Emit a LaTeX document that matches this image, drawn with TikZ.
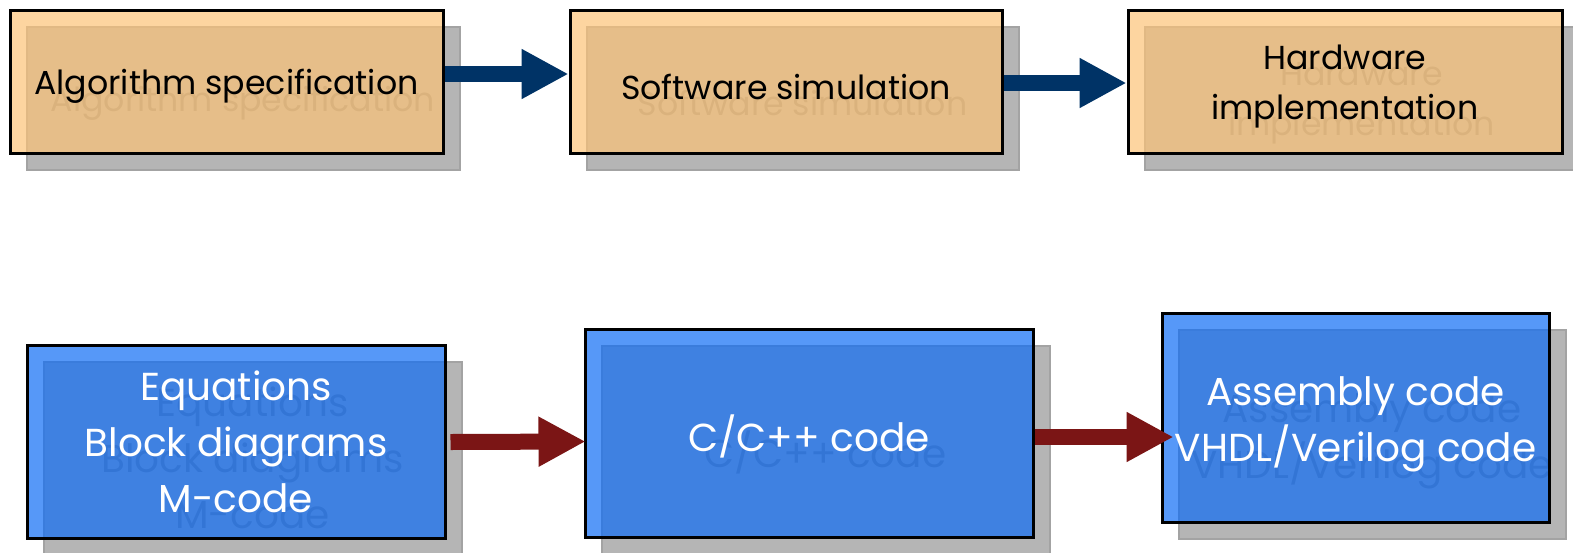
\documentclass[tikz,border=0pt]{standalone}
\usepackage{fontspec}
\setmainfont{Poppins}
\usetikzlibrary{arrows.meta,positioning}

\definecolor{boxorange}{RGB}{252,195,119}
\definecolor{boxblue}{RGB}{14,108,245}
\definecolor{arrowblue}{RGB}{0,51,102}
\definecolor{arrowred}{RGB}{123,21,21}

\begin{document}
\begin{tikzpicture}[x=0.5pt,y=-0.5pt,
    blk/.style={draw=black,line width=1.5pt,fill opacity=0.7,inner sep=0pt},
    blkshadow/.style={draw=black!36,line width=1pt,fill=black!29,inner sep=0pt,xshift=8.25pt,yshift=-8.25pt},
    toptext/.style={font=\fontsize{16.6}{25}\selectfont,align=center,inner sep=0pt},
    bottext/.style={font=\fontsize{19.5}{28}\selectfont,align=center,inner sep=0pt},
    flow/.style={line width=8pt,-{Triangle[length=23.5pt,width=23.5pt]}}]
\useasboundingbox (0,0) rectangle (1573,552);

% top row
\foreach \n/\x/\y/\w/\dy/\txt in
    {1/226.5/81.5/216.5/2.5/{Algorithm specification},
     2/786/81.5/216/2.5/{Software simulation},
     3/1345/81.5/217/2.5/{Hardware\\implementation}}
  {
    \node[blkshadow,minimum width=\w pt,minimum height=71.5pt,
          label={[toptext,text=black!45,yshift=-\dy pt]center:\txt}] at (\x,\y) {};
    \node[blk,fill=boxorange,minimum width=\w pt,minimum height=71.5pt,
          label={[toptext,yshift=-\dy pt]center:\txt}](N\n) at (\x,\y) {};
  }

% bottom row
\foreach \n/\x/\y/\w/\h/\dy/\txt in
    {4/236/441.5/209/96.5/0/{Equations\\Block diagrams\\M-code},
     5/809/433/224/104/1.5/{C/C++ code},
     6/1355.5/417.5/193.5/104.5/3.5/{Assembly code\\VHDL/Verilog code}}
  {
    \node[blkshadow,minimum width=\w pt,minimum height=\h pt,
          label={[bottext,text=black!45,yshift=-\dy pt]center:\txt}] at (\x,\y) {};
    \node[blk,fill=boxblue,minimum width=\w pt,minimum height=\h pt,
          label={[bottext,text=white,yshift=-\dy pt]center:\txt}](N\n) at (\x,\y) {};
  }

\draw[flow,arrowblue] ([yshift=3.75pt]N1.east) -- ([yshift=3.75pt]N2.west);
\draw[flow,arrowblue] ([yshift=-0.75pt]N2.east) -- ([yshift=-0.75pt]N3.west);
\draw[flow,arrowred] ([xshift=2pt,yshift=-0.25pt]N4.east) -- ([xshift=1pt]N4.east -| N5.west);
\draw[flow,arrowred] ([yshift=-2pt]N5.east) -- ([xshift=6.5pt,yshift=-2pt]N5.east -| N6.west);
\end{tikzpicture}
\end{document}
